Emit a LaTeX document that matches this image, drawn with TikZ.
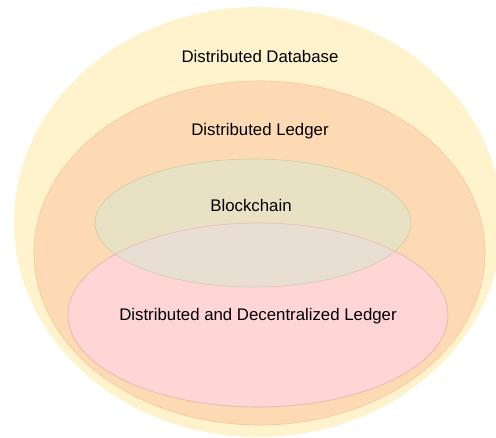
\documentclass[tikz,border=0pt]{standalone}
\usepackage{fontspec}
\setmainfont{Liberation Sans}
\usepackage{tikz}
\usetikzlibrary{positioning,shapes.geometric}

\definecolor{dbfill}{HTML}{FEF3CD}
\definecolor{ledgerfill}{HTML}{FDDAB3}
\definecolor{ledgerline}{HTML}{F2C89C}
\definecolor{chainfill}{HTML}{D5E8D4}
\definecolor{chainline}{HTML}{82B366}
\definecolor{ddlfill}{HTML}{FFD5D6}
\definecolor{ddlline}{HTML}{F0B4B0}

\begin{document}
\begin{tikzpicture}[x=1pt, y=-1pt, font=\fontsize{16.8}{20}\selectfont,
    set/.style={ellipse, inner sep=0pt, line width=0.6pt}]
    \useasboundingbox (0,0) rectangle (496,438);

    \node[set, minimum width=488pt, minimum height=430pt, fill=dbfill] (db) at (258,222) {};
    \node[set, minimum width=451pt, minimum height=344pt, fill=ledgerfill, draw=ledgerline] (ledger) at (259.5,253) {};
    \node[set, minimum width=380pt, minimum height=184pt, fill=ddlfill, draw=ddlline] (ddl) at (258,315) {};
    \node[set, minimum width=316pt, minimum height=128pt, fill=chainfill, fill opacity=0.5, draw=chainline, draw opacity=0.35] (chain) at (253,223) {};
    \node[set, minimum width=380pt, minimum height=184pt, draw=ddlline, draw opacity=0.6] (ddledge) at (258,315) {};

    \node (dbtext) at (260,56) {Distributed Database};
    \node (ledgertext) at (260,131) {Distributed Ledger};
    \node (chaintext) at (251,205) {Blockchain};
    \node (ddltext) at (258,316) {Distributed and Decentralized Ledger};
\end{tikzpicture}
\end{document}
